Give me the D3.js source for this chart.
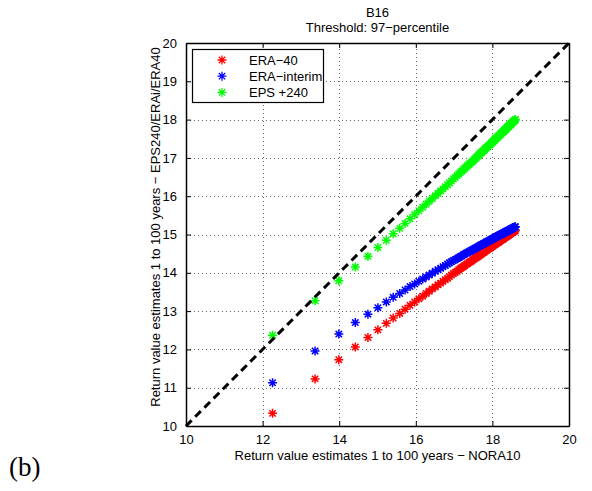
<!DOCTYPE html>
<html>
<head>
<meta charset="utf-8">
<script src="https://cdn.jsdelivr.net/npm/d3@7"></script>
<style>
  body { margin: 0; background: #fff; }
  svg text { font-family: "Liberation Sans", Arial, Helvetica, sans-serif; }
</style>
</head>
<body>
<script>
// return values for return periods 1..100 years
const nora10 = [12.26,13.37,13.99,14.42,14.75,15.01,15.23,15.41,15.58,15.72,
  15.85,15.97,16.08,16.18,16.27,16.35,16.43,16.51,16.58,16.65,
  16.71,16.77,16.83,16.88,16.93,16.98,17.03,17.08,17.12,17.16,
  17.20,17.24,17.28,17.32,17.35,17.39,17.42,17.46,17.49,17.52,
  17.55,17.58,17.61,17.64,17.66,17.69,17.72,17.74,17.77,17.79,
  17.81,17.84,17.86,17.88,17.90,17.93,17.95,17.97,17.99,18.01,
  18.03,18.05,18.07,18.08,18.10,18.12,18.14,18.16,18.17,18.19,
  18.21,18.22,18.24,18.26,18.27,18.29,18.30,18.32,18.33,18.35,
  18.36,18.37,18.39,18.40,18.42,18.43,18.44,18.46,18.47,18.48,
  18.49,18.51,18.52,18.53,18.54,18.56,18.57,18.58,18.59,18.60];

const era40 = [10.33,11.23,11.73,12.06,12.31,12.51,12.68,12.82,12.94,13.05,
  13.15,13.24,13.32,13.39,13.46,13.52,13.58,13.63,13.69,13.73,
  13.78,13.82,13.86,13.90,13.94,13.98,14.01,14.04,14.08,14.11,
  14.14,14.16,14.19,14.22,14.24,14.27,14.29,14.31,14.34,14.36,
  14.38,14.40,14.42,14.44,14.46,14.48,14.50,14.52,14.53,14.55,
  14.57,14.58,14.60,14.62,14.63,14.64,14.66,14.67,14.69,14.70,
  14.72,14.73,14.74,14.76,14.77,14.78,14.79,14.80,14.82,14.83,
  14.84,14.85,14.86,14.87,14.88,14.89,14.90,14.92,14.93,14.94,
  14.95,14.96,14.96,14.97,14.98,14.99,15.00,15.01,15.02,15.03,
  15.04,15.05,15.05,15.06,15.07,15.08,15.09,15.10,15.10,15.11];

const eraInterim = [11.13,11.96,12.40,12.70,12.92,13.09,13.24,13.36,13.46,13.55,
  13.64,13.71,13.78,13.84,13.89,13.94,13.99,14.04,14.08,14.12,
  14.16,14.19,14.23,14.26,14.29,14.32,14.34,14.37,14.40,14.42,
  14.44,14.47,14.49,14.51,14.53,14.55,14.57,14.59,14.60,14.62,
  14.64,14.65,14.67,14.69,14.70,14.72,14.73,14.74,14.76,14.77,
  14.78,14.80,14.81,14.82,14.83,14.84,14.86,14.87,14.88,14.89,
  14.90,14.91,14.92,14.93,14.94,14.95,14.96,14.97,14.98,14.99,
  15.00,15.00,15.01,15.02,15.03,15.04,15.04,15.05,15.06,15.07,
  15.08,15.08,15.09,15.10,15.10,15.11,15.12,15.13,15.13,15.14,
  15.15,15.15,15.16,15.17,15.17,15.18,15.18,15.19,15.20,15.20];

const eps240 = [12.37,13.27,13.79,14.15,14.43,14.66,14.85,15.02,15.16,15.29,
  15.41,15.52,15.62,15.71,15.79,15.87,15.94,16.01,16.07,16.14,
  16.19,16.25,16.30,16.35,16.40,16.45,16.49,16.54,16.58,16.62,
  16.66,16.69,16.73,16.76,16.80,16.83,16.86,16.89,16.92,16.95,
  16.98,17.01,17.04,17.07,17.09,17.12,17.14,17.17,17.19,17.21,
  17.24,17.26,17.28,17.30,17.32,17.34,17.36,17.38,17.40,17.42,
  17.44,17.46,17.48,17.50,17.51,17.53,17.55,17.57,17.58,17.60,
  17.62,17.63,17.65,17.66,17.68,17.69,17.71,17.72,17.74,17.75,
  17.76,17.78,17.79,17.81,17.82,17.83,17.85,17.86,17.87,17.88,
  17.90,17.91,17.92,17.93,17.94,17.96,17.97,17.98,17.99,18.00];

const seriesNames = ["ERA\u221240", "ERA\u2212interim", "EPS +240"];
const seriesColors = ["#ff0000", "#0000ff", "#00ff00"];
const xTicks = [10, 12, 14, 16, 18, 20];
const yTicks = [10, 11, 12, 13, 14, 15, 16, 17, 18, 19, 20];

const W = 592, H = 491;
const pLeft = 186, pRight = 569, pTop = 43, pBottom = 426;

const svg = d3.select("body").append("svg")
    .attr("width", W)
    .attr("height", H);

const x = d3.scaleLinear().domain([10, 20]).range([pLeft, pRight]);
const y = d3.scaleLinear().domain([10, 20]).range([pBottom, pTop]);

// dotted grid
const grid = svg.append("g")
    .attr("stroke", "#666")
    .attr("stroke-width", 1)
    .attr("stroke-dasharray", "1,3");
grid.selectAll(".gx").data(xTicks.slice(1, -1)).enter().append("line")
    .attr("x1", d => Math.round(x(d)) + 0.5).attr("x2", d => Math.round(x(d)) + 0.5)
    .attr("y1", pBottom).attr("y2", pTop);
grid.selectAll(".gy").data(yTicks.slice(1, -1)).enter().append("line")
    .attr("y1", d => Math.round(y(d)) + 0.5).attr("y2", d => Math.round(y(d)) + 0.5)
    .attr("x1", pLeft).attr("x2", pRight);

// axes, ticks pointing in, box on
const fmt = d3.format("d");
svg.append("g")
    .attr("transform", "translate(0," + pBottom + ")")
    .call(d3.axisBottom(x).tickValues(xTicks).tickSizeInner(-5).tickSizeOuter(0).tickPadding(9).tickFormat(fmt));
svg.append("g")
    .attr("transform", "translate(0," + pTop + ")")
    .call(d3.axisTop(x).tickValues(xTicks).tickSizeInner(-5).tickSizeOuter(0).tickFormat(""));
svg.append("g")
    .attr("transform", "translate(" + pLeft + ",0)")
    .call(d3.axisLeft(y).tickValues(yTicks).tickSizeInner(-5).tickSizeOuter(0).tickPadding(9).tickFormat(fmt));
svg.append("g")
    .attr("transform", "translate(" + pRight + ",0)")
    .call(d3.axisRight(y).tickValues(yTicks).tickSizeInner(-5).tickSizeOuter(0).tickFormat(""));

svg.selectAll(".domain").attr("stroke", "#000").attr("stroke-width", 1.5);
svg.selectAll(".tick line").attr("stroke", "#000").attr("stroke-width", 1);
svg.selectAll(".tick text").attr("font-size", 13).attr("fill", "#000")
    .attr("font-family", "Liberation Sans, Arial, sans-serif");

// asterisk marker like matlab '*'
const r = 4.5, rd = 3.2;
const star = "M" + (-r) + ",0H" + r + "M0," + (-r) + "V" + r +
    "M" + (-rd) + "," + (-rd) + "L" + rd + "," + rd +
    "M" + (-rd) + "," + rd + "L" + rd + "," + (-rd);

const series = [era40, eraInterim, eps240];
series.forEach(function (vals, i) {
  svg.append("g")
      .attr("stroke", seriesColors[i])
      .attr("stroke-width", 1.5)
      .attr("fill", "none")
    .selectAll("path")
    .data(vals)
    .enter().append("path")
      .attr("transform", (d, j) => "translate(" + x(nora10[j]) + "," + y(d) + ")")
      .attr("d", star);
});

// 1:1 reference line
svg.append("line")
    .attr("x1", x(10)).attr("y1", y(10))
    .attr("x2", x(20)).attr("y2", y(20))
    .attr("stroke", "#000")
    .attr("stroke-width", 3)
    .attr("stroke-dasharray", "8,5");

// legend
const lg = svg.append("g");
lg.append("rect")
    .attr("x", 192.5).attr("y", 49.5)
    .attr("width", 131).attr("height", 53)
    .attr("fill", "#fff")
    .attr("stroke", "#000")
    .attr("stroke-width", 1.2);
seriesNames.forEach(function (name, i) {
  const ly = 60 + i * 16.2;
  lg.append("path")
      .attr("transform", "translate(222," + ly + ")")
      .attr("d", star)
      .attr("stroke", seriesColors[i])
      .attr("stroke-width", 1.3);
  lg.append("text")
      .attr("x", 249).attr("y", ly)
      .attr("dy", "0.36em")
      .attr("font-size", 13)
      .text(name);
});

// titles and labels
const cx = (pLeft + pRight) / 2;
svg.append("text")
    .attr("x", cx).attr("y", 17)
    .attr("text-anchor", "middle")
    .attr("font-size", 13)
    .text("B16");
svg.append("text")
    .attr("x", cx).attr("y", 31.5)
    .attr("text-anchor", "middle")
    .attr("font-size", 13)
    .text("Threshold: 97\u2212percentile");
svg.append("text")
    .attr("x", cx).attr("y", 460)
    .attr("text-anchor", "middle")
    .attr("font-size", 13)
    .text("Return value estimates 1 to 100 years \u2212 NORA10");
svg.append("text")
    .attr("transform", "translate(160,227)rotate(-90)")
    .attr("text-anchor", "middle")
    .attr("font-size", 13)
    .text("Return value estimates 1 to 100 years \u2212 EPS240/ERAi/ERA40");

svg.append("text")
    .attr("x", 9).attr("y", 476)
    .attr("font-size", 27)
    .style("font-family", "'Liberation Serif', 'Times New Roman', serif")
    .text("(b)");
</script>
</body>
</html>
